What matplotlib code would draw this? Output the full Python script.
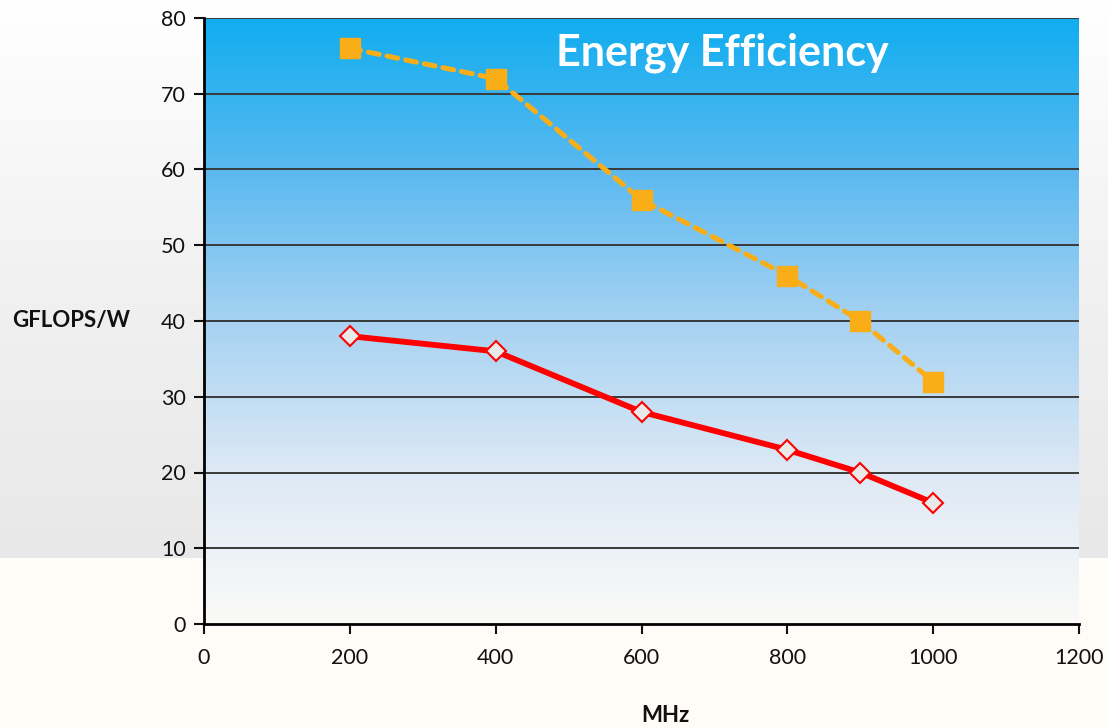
"""
Energy Efficiency chart: GFLOPS/W vs MHz.
"""

import numpy as np
import matplotlib
matplotlib.use('Agg')
import matplotlib.pyplot as plt
from matplotlib.colors import LinearSegmentedColormap

# Datos
mhz = [200, 400, 600, 800, 900, 1000]
serie_naranja = [76, 72, 56, 46, 40, 32]
serie_roja = [38, 36, 28, 23, 20, 16]
x_ticks = [0, 200, 400, 600, 800, 1000, 1200]
y_ticks = [0, 10, 20, 30, 40, 50, 60, 70, 80]

plt.rcParams['font.family'] = ['Lato', 'DejaVu Sans']

fig = plt.figure(figsize=(11.08, 7.28), dpi=100)
fig.patch.set_facecolor('#fffbf7')

# Fondo gris degradado detrás del gráfico
W, H = 1108, 728
fondo = fig.add_axes([0, 1 - 558 / H, 1, 558 / H], zorder=0)
grad_fondo = LinearSegmentedColormap.from_list('fondo', ['#ffffff', '#f1f1f1', '#e8e8e8'])
fondo.imshow(np.linspace(0, 1, 256).reshape(-1, 1), aspect='auto', cmap=grad_fondo,
             extent=[0, 1, 0, 1], origin='upper')
fondo.axis('off')

# Área del gráfico
ax = fig.add_axes([204 / W, 1 - 624 / H, 875 / W, 606 / H], zorder=1)
grad_area = LinearSegmentedColormap.from_list(
    'area', ['#10adef', '#5ab9f0', '#a6d2f2', '#dde9f5', '#fbfaf8'])
ax.imshow(np.linspace(0, 1, 256).reshape(-1, 1), aspect='auto', cmap=grad_area,
          extent=[0, 1200, 0, 80], origin='upper', zorder=0)

# Líneas de cuadrícula
for y in y_ticks[1:]:
    ax.axhline(y, color='#3a3a3a', lw=1.4, zorder=1)

# Series
ax.plot(mhz, serie_naranja, color='#f9ae17', lw=3.6, ls=(0, (2.2, 1.6)),
        dash_capstyle='round', marker='s', markersize=14, zorder=3)
ax.plot(mhz, serie_roja, color='#ff0000', lw=4.2, marker='D', markersize=10,
        markerfacecolor='#e9e9e9', markeredgecolor='#ff0000', markeredgewidth=1.5, zorder=3)

ax.set_xlim(0, 1200)
ax.set_ylim(0, 80)
ax.set_xticks(x_ticks)
ax.set_yticks(y_ticks)
ax.tick_params(axis='both', direction='out', length=7, width=1.5, labelsize=15.5,
               colors='#111111', pad=6)
ax.tick_params(axis='x', pad=10)

for lado in ['top', 'right']:
    ax.spines[lado].set_visible(False)
ax.spines['left'].set_linewidth(2)
ax.spines['bottom'].set_linewidth(2)

ax.text(711, 73.7, 'Energy Efficiency', color='white', fontsize=31, fontweight='bold',
        ha='center', va='baseline', zorder=4)

fig.text(71 / W, 1 - 321 / H, 'GFLOPS/W', fontsize=16, fontweight='bold',
         ha='center', va='center', color='#111111')
fig.text(665 / W, 1 - 715 / H, 'MHz', fontsize=16, fontweight='bold',
         ha='center', va='center', color='#111111')

plt.savefig('out.png', dpi=100, facecolor=fig.get_facecolor())
